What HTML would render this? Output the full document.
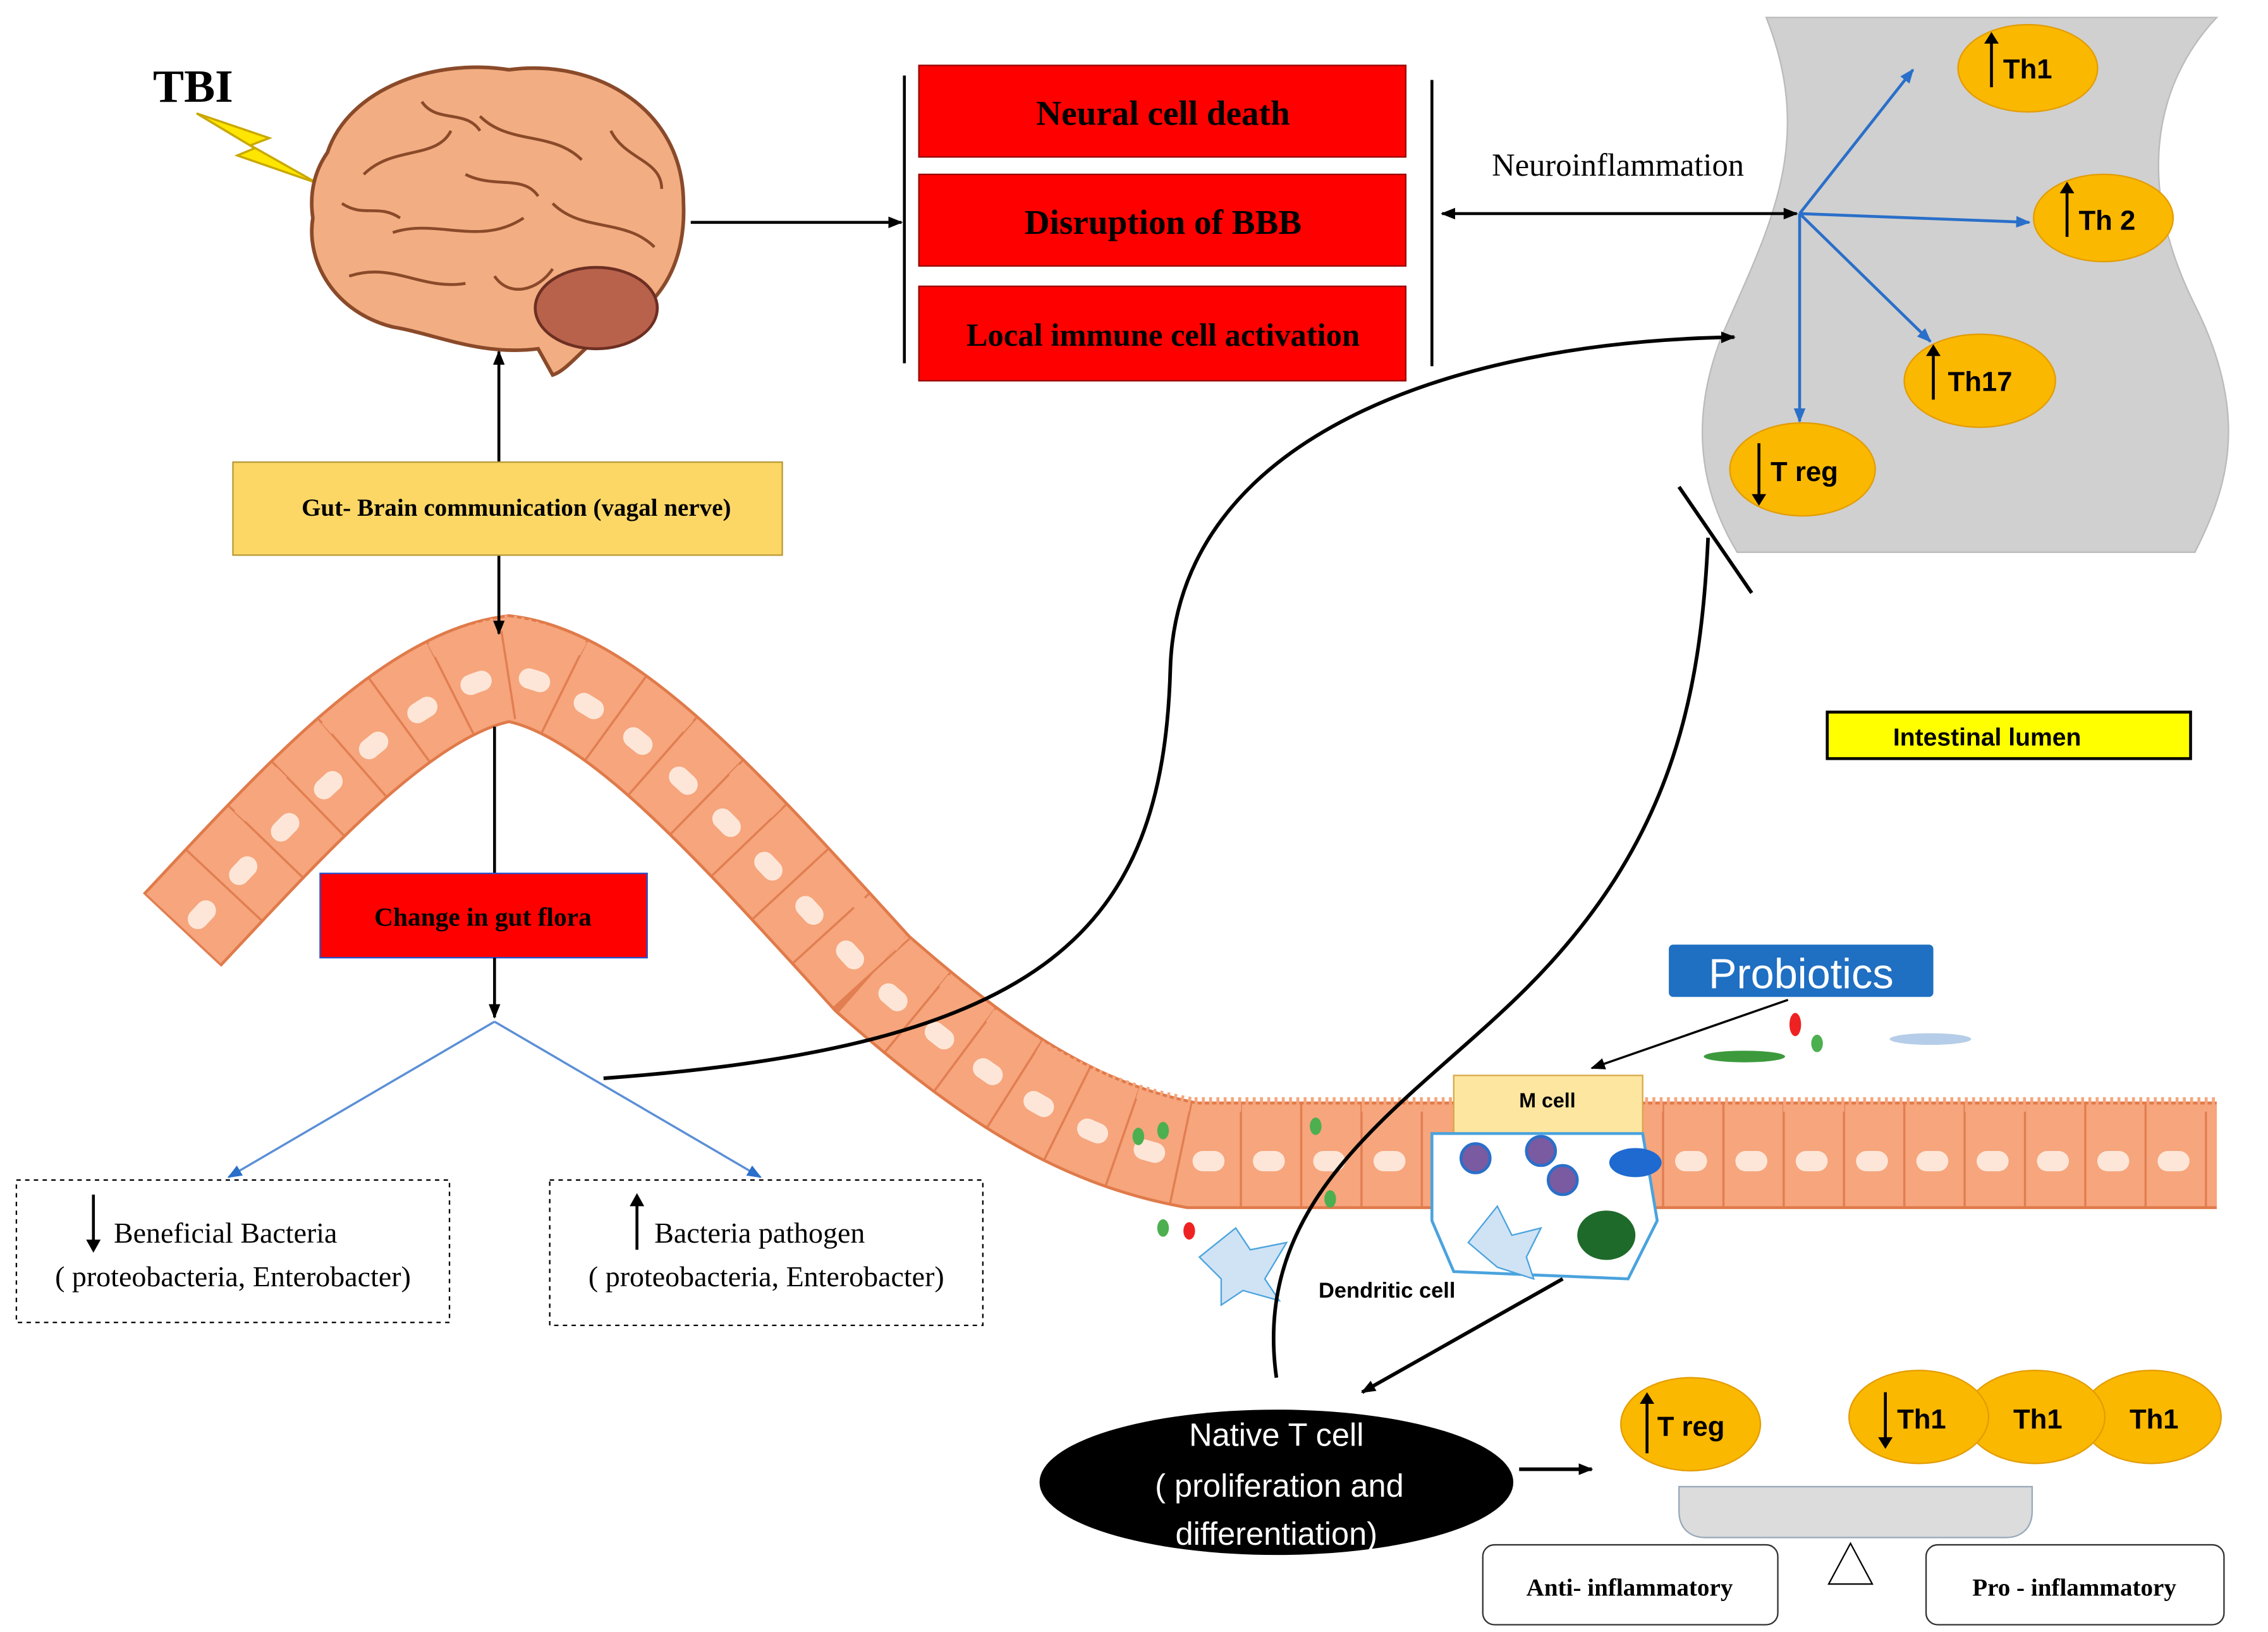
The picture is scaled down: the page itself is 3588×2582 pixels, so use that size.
<!DOCTYPE html>
<html><head><meta charset="utf-8"><style>
html,body{margin:0;padding:0;background:#fff;}
svg{display:block;}
.sf{font-family:"Liberation Serif",serif;}
.ss{font-family:"Liberation Sans",sans-serif;}
</style></head><body>
<svg width="3588" height="2582" viewBox="0 0 1560 1123" xmlns="http://www.w3.org/2000/svg">
<defs>
<marker id="a" markerWidth="10" markerHeight="10" refX="9" refY="5" orient="auto" markerUnits="userSpaceOnUse"><path d="M0,1 L10,5 L0,9 z" fill="#000"/></marker>
<marker id="as" markerWidth="10" markerHeight="10" refX="1" refY="5" orient="auto" markerUnits="userSpaceOnUse"><path d="M10,1 L0,5 L10,9 z" fill="#000"/></marker>
<marker id="b" markerWidth="10" markerHeight="10" refX="9" refY="5" orient="auto" markerUnits="userSpaceOnUse"><path d="M0,1 L10,5 L0,9 z" fill="#2a6fc9"/></marker>
</defs>
<rect width="1560" height="1123" fill="#fff"/>

<!-- gray lumen shape -->
<path d="M1215,12 L1525,12 C1480,60 1470,130 1510,210 C1550,290 1530,340 1510,380 L1195,380 C1165,330 1165,280 1185,230 C1215,160 1250,100 1215,12 Z" fill="#d0d0d0" stroke="#bbb"/>

<!-- TBI -->
<text x="105" y="70" class="sf" font-size="32" font-weight="bold">TBI</text>
<path d="M135,78 L185,95 L172,100 L218,126 L163,107 L175,102 Z" fill="#ffe600" stroke="#c9a800" stroke-width="1.5"/>

<!-- brain -->
<path d="M225,105 C240,60 300,40 350,48 C410,40 470,75 470,140 C472,185 450,215 420,225 C400,240 390,255 380,258 L370,240 C330,245 300,230 270,225 C230,215 210,180 215,150 C212,130 218,115 225,105 Z" fill="#f2ad82" stroke="#8a4a2a" stroke-width="2.5"/>
<ellipse cx="410" cy="212" rx="42" ry="28" fill="#b8624c" stroke="#6d2f22" stroke-width="2"/>
<path d="M250,120 C270,100 300,110 310,90 M330,80 C350,100 380,90 400,110 M270,160 C300,150 330,170 360,150 M380,140 C400,160 430,150 450,170 M240,190 C270,180 290,200 320,195 M320,120 C340,130 360,120 370,135 M420,90 C430,110 455,110 455,130 M235,140 C250,150 260,140 275,150 M290,70 C300,85 320,75 330,90 M340,190 C350,205 370,200 380,185" fill="none" stroke="#8a4a2a" stroke-width="2"/>

<line x1="475" y1="153" x2="620" y2="153" stroke="#000" stroke-width="2" marker-end="url(#a)"/>
<line x1="622" y1="52" x2="622" y2="250" stroke="#000" stroke-width="2"/>
<line x1="985" y1="55" x2="985" y2="252" stroke="#000" stroke-width="2"/>

<rect x="632" y="45" width="335" height="63" fill="#f00" stroke="#900"/>
<text x="800" y="86" class="sf" font-size="24" font-weight="bold" text-anchor="middle">Neural  cell death</text>
<rect x="632" y="120" width="335" height="63" fill="#f00" stroke="#900"/>
<text x="800" y="161" class="sf" font-size="24" font-weight="bold" text-anchor="middle">Disruption  of BBB</text>
<rect x="632" y="197" width="335" height="65" fill="#f00" stroke="#900"/>
<text x="800" y="238" class="sf" font-size="22" font-weight="bold" text-anchor="middle">Local immune cell activation</text>

<line x1="992" y1="147" x2="1236" y2="147" stroke="#000" stroke-width="2" marker-end="url(#a)" marker-start="url(#as)"/>
<text x="1113" y="121" class="sf" font-size="22" text-anchor="middle">Neuroinflammation</text>

<g stroke="#2a6fc9" stroke-width="2" fill="none">
<line x1="1238" y1="147" x2="1316" y2="48" marker-end="url(#b)"/>
<line x1="1238" y1="147" x2="1396" y2="153" marker-end="url(#b)"/>
<line x1="1238" y1="147" x2="1328" y2="235" marker-end="url(#b)"/>
<line x1="1238" y1="147" x2="1238" y2="290" marker-end="url(#b)"/>
</g>
<g fill="#fbb800" stroke="#e39d00">
<ellipse cx="1395" cy="47" rx="48" ry="30"/>
<ellipse cx="1447" cy="150" rx="48" ry="30"/>
<ellipse cx="1362" cy="262" rx="52" ry="32"/>
<ellipse cx="1240" cy="323" rx="50" ry="32"/>
</g>
<g class="ss" font-size="19" font-weight="bold">
<text x="1378" y="54">Th1</text><text x="1430" y="158">Th 2</text>
<text x="1340" y="269">Th17</text><text x="1218" y="331">T reg</text>
</g>
<g stroke="#000" stroke-width="2">
<line x1="1370" y1="60" x2="1370" y2="30"/><line x1="1422" y1="163" x2="1422" y2="133"/>
<line x1="1330" y1="275" x2="1330" y2="245"/><line x1="1210" y1="305" x2="1210" y2="340"/>
</g>
<path d="M1365,30 L1370,22 L1375,30 Z M1417,133 L1422,125 L1427,133 Z M1325,245 L1330,237 L1335,245 Z M1205,340 L1210,348 L1215,340 Z"/>

<line x1="1155" y1="335" x2="1205" y2="408" stroke="#000" stroke-width="2.5"/>

<!-- gut epithelium -->
<path id="g" d="M125,640 C200,560 280,470 350,460 C420,470 500,560 600,670 C680,740 740,780 820,795 L1525,795" fill="none" stroke="#e07a4a" stroke-width="74"/>
<path d="M125,640 C200,560 280,470 350,460 C420,470 500,560 600,670 C680,740 740,780 820,795 L1525,795" fill="none" stroke="#f6a57c" stroke-width="70"/>
<path d="M125,640 C200,560 280,470 350,460 C420,470 500,560 600,670 C680,740 740,780 820,795 L1525,795" fill="none" stroke="#d86d40" stroke-width="70" stroke-dasharray="1.5 40" opacity="0.7"/>
<path d="M125,640 C200,560 280,470 350,460 C420,470 500,560 600,670 C680,740 740,780 820,795 L1525,795" fill="none" stroke="#fde6d8" stroke-width="14" stroke-linecap="round" stroke-dasharray="8 33.5" stroke-dashoffset="-16" transform="translate(0,4)"/>
<path d="M118,614 C190,532 270,442 350,428 C430,442 510,532 610,642 C690,712 750,748 820,760 L1525,760" fill="none" stroke="#f6a57c" stroke-width="10" stroke-dasharray="2 3"/>
<rect x="1000" y="740" width="130" height="40" fill="#fde6a0" stroke="#d8a84a"/>
<text x="1045" y="762" class="ss" font-size="14" font-weight="bold">M cell</text>
<path d="M985,780 L1130,780 L1140,840 L1120,880 L1000,875 L985,840 Z" fill="#fff" stroke="#4aa3dd" stroke-width="2"/>
<g fill="#7a5aa0" stroke="#2a6fc9" stroke-width="2">
<circle cx="1015" cy="797" r="10"/><circle cx="1060" cy="792" r="10"/><circle cx="1075" cy="812" r="10"/>
</g>
<ellipse cx="1125" cy="800" rx="18" ry="10" fill="#1e6ad0"/>
<ellipse cx="1105" cy="850" rx="20" ry="17" fill="#1e6a2a"/>
<path d="M825,865 L850,845 L860,860 L885,855 L870,880 L880,895 L855,888 L840,898 L840,880 Z" fill="#cfe3f5" stroke="#4aa3dd"/>
<path d="M1010,855 L1030,830 L1040,850 L1060,845 L1050,865 L1055,880 L1030,872 Z" fill="#cfe3f5" stroke="#4aa3dd"/>
<g fill="#4caf50"><ellipse cx="783" cy="782" rx="4" ry="6"/><ellipse cx="800" cy="778" rx="4" ry="6"/><ellipse cx="800" cy="845" rx="4" ry="6"/><ellipse cx="905" cy="775" rx="4" ry="6"/><ellipse cx="915" cy="825" rx="4" ry="6"/><ellipse cx="1250" cy="718" rx="4" ry="6"/></g>
<g fill="#e22"><ellipse cx="818" cy="847" rx="4" ry="6"/><ellipse cx="1235" cy="705" rx="4" ry="8"/></g>
<ellipse cx="1200" cy="727" rx="28" ry="4" fill="#3c9a3c"/>
<ellipse cx="1328" cy="715" rx="28" ry="4" fill="#b5cde8"/>
<text x="907" y="893" class="ss" font-size="15" font-weight="bold">Dendritic cell</text>

<line x1="343" y1="242" x2="343" y2="436" stroke="#000" stroke-width="2" marker-end="url(#a)" marker-start="url(#as)"/>
<rect x="160" y="318" width="378" height="64" fill="#fcd765" stroke="#b89a3a"/>
<text x="355" y="355" class="sf" font-size="17" font-weight="bold" text-anchor="middle">Gut- Brain communication (vagal nerve)</text>

<line x1="340" y1="500" x2="340" y2="601" stroke="#000" stroke-width="2"/>
<rect x="220" y="601" width="225" height="58" fill="#f00" stroke="#2a4fc9"/>
<text x="332" y="637" class="sf" font-size="18" font-weight="bold" text-anchor="middle">Change in gut flora</text>
<line x1="340" y1="659" x2="340" y2="700" stroke="#000" stroke-width="2" marker-end="url(#a)"/>
<line x1="340" y1="703" x2="157" y2="810" stroke="#5b8fd6" stroke-width="1.5" marker-end="url(#b)"/>
<line x1="340" y1="703" x2="523" y2="810" stroke="#5b8fd6" stroke-width="1.5" marker-end="url(#b)"/>

<rect x="11" y="812" width="298" height="98" fill="#fff" stroke="#000" stroke-dasharray="3 3"/>
<line x1="64" y1="822" x2="64" y2="855" stroke="#000" stroke-width="2"/><path d="M59,853 L64,862 L69,853 Z"/>
<text x="78" y="855" class="sf" font-size="20">Beneficial  Bacteria</text>
<text x="160" y="885" class="sf" font-size="20" text-anchor="middle">( proteobacteria,  Enterobacter)</text>
<rect x="378" y="812" width="298" height="100" fill="#fff" stroke="#000" stroke-dasharray="3 3"/>
<line x1="438" y1="828" x2="438" y2="860" stroke="#000" stroke-width="2"/><path d="M433,830 L438,821 L443,830 Z"/>
<text x="450" y="855" class="sf" font-size="20">Bacteria  pathogen</text>
<text x="527" y="885" class="sf" font-size="20" text-anchor="middle">( proteobacteria,  Enterobacter)</text>

<path d="M415,742 C720,720 800,640 805,460 C810,300 1000,235 1193,232" fill="none" stroke="#000" stroke-width="2.5" marker-end="url(#a)"/>
<path d="M878,948 C860,820 970,760 1050,680 C1150,580 1170,480 1175,370" fill="none" stroke="#000" stroke-width="2.5"/>

<rect x="1257" y="490" width="250" height="32" fill="#ffff00" stroke="#000" stroke-width="2"/>
<text x="1367" y="513" class="ss" font-size="17" font-weight="bold" text-anchor="middle">Intestinal lumen</text>

<rect x="1148" y="650" width="182" height="36" rx="3" fill="#1f6fc2"/>
<text x="1239" y="680" class="ss" font-size="29" fill="#fff" text-anchor="middle">Probiotics</text>
<line x1="1230" y1="688" x2="1095" y2="735" stroke="#000" stroke-width="1.5" marker-end="url(#a)"/>

<line x1="1075" y1="880" x2="937" y2="958" stroke="#000" stroke-width="2.5" marker-end="url(#a)"/>
<ellipse cx="878" cy="1020" rx="163" ry="50" fill="#000"/>
<g class="ss" font-size="22" fill="#fff" text-anchor="middle">
<text x="878" y="995">Native T cell</text><text x="880" y="1030">( proliferation and</text><text x="878" y="1063">differentiation)</text>
</g>
<line x1="1045" y1="1011" x2="1095" y2="1011" stroke="#000" stroke-width="2.5" marker-end="url(#a)"/>

<g fill="#fbb800" stroke="#e39d00">
<ellipse cx="1163" cy="980" rx="48" ry="32"/>
<ellipse cx="1480" cy="975" rx="48" ry="32"/>
<ellipse cx="1400" cy="975" rx="48" ry="32"/>
<ellipse cx="1320" cy="975" rx="48" ry="32"/>
</g>
<g class="ss" font-size="19" font-weight="bold">
<text x="1140" y="988">T reg</text><text x="1305" y="983">Th1</text><text x="1385" y="983">Th1</text><text x="1465" y="983">Th1</text>
</g>
<line x1="1133" y1="1000" x2="1133" y2="965" stroke="#000" stroke-width="2"/><path d="M1128,966 L1133,958 L1138,966 Z"/>
<line x1="1297" y1="958" x2="1297" y2="990" stroke="#000" stroke-width="2"/><path d="M1292,989 L1297,997 L1302,989 Z"/>

<path d="M1155,1023 L1398,1023 L1398,1040 C1398,1052 1390,1058 1380,1058 L1173,1058 C1163,1058 1155,1052 1155,1040 Z" fill="#dcdcdc" stroke="#9ab"/>
<path d="M1273,1062 L1258,1090 L1288,1090 Z" fill="#fff" stroke="#000"/>
<rect x="1020" y="1063" width="203" height="55" rx="8" fill="#fff" stroke="#333"/>
<text x="1121" y="1098" class="sf" font-size="17" font-weight="bold" text-anchor="middle">Anti- inflammatory</text>
<rect x="1325" y="1063" width="205" height="55" rx="8" fill="#fff" stroke="#333"/>
<text x="1427" y="1098" class="sf" font-size="17" font-weight="bold" text-anchor="middle">Pro - inflammatory</text>
</svg>
</body></html>
